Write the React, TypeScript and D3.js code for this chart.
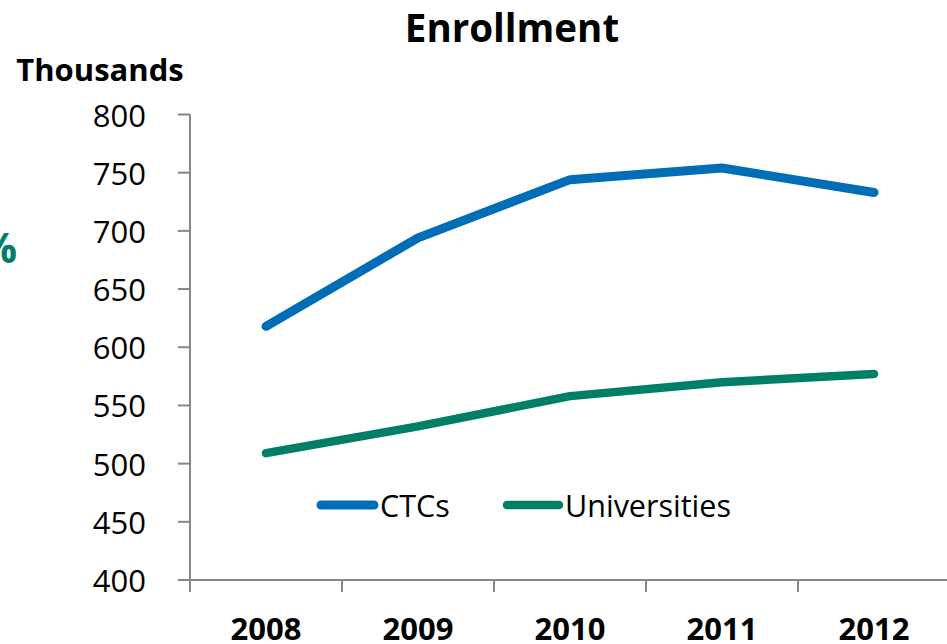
import * as d3 from "d3";

const years = ["2008", "2009", "2010", "2011", "2012"];
const ctcs = [618, 694, 744, 754, 733];
const universities = [509, 532, 558, 570, 577];
const yTicks = [400, 450, 500, 550, 600, 650, 700, 750, 800];

const WIDTH = 947;
const HEIGHT = 644;
const BLUE = "#006EB6";
const GREEN = "#007F68";
const AXIS = "#868686";
const FONT = "'Open Sans', Lato, sans-serif";

const App = () => {
  const xScale = d3.scaleBand().domain(years).range([190, 950]).padding(0);
  const yScale = d3.scaleLinear().domain([400, 800]).range([580, 114.5]);

  const xMid = (d: string) => (xScale(d) ?? 0) + xScale.bandwidth() / 2;

  const line = d3
    .line<number>()
    .x((_, i) => xMid(years[i]))
    .y((d) => yScale(d));

  const series = [
    { name: "CTCs", values: ctcs, color: BLUE, width: 9 },
    { name: "Universities", values: universities, color: GREEN, width: 8.5 },
  ];

  return (
    <svg
      width={WIDTH}
      height={HEIGHT}
      style={{ position: "absolute", left: 0, top: 0, background: "#fff" }}
      fontFamily={FONT}
    >
      <text x={512} y={42} textAnchor="middle" fontSize={38.5} fontWeight="bold">
        Enrollment
      </text>
      <text x={100} y={81} textAnchor="middle" fontSize={31} fontWeight="bold">
        Thousands
      </text>
      <text x={17} y={263} textAnchor="end" fontSize={42} fontWeight="bold" fill={GREEN}>
        %
      </text>

      {/* y axis */}
      <line x1={190} x2={190} y1={yScale(800)} y2={580} stroke={AXIS} strokeWidth={2} />
      {yTicks.map((t) => (
        <g key={t}>
          <line x1={178} x2={190} y1={yScale(t)} y2={yScale(t)} stroke={AXIS} strokeWidth={2} />
          <text
            x={146}
            y={yScale(t)}
            textAnchor="end"
            dominantBaseline="central"
            fontSize={31}
          >
            {t}
          </text>
        </g>
      ))}

      {/* x axis */}
      <line x1={178} x2={950} y1={580} y2={580} stroke={AXIS} strokeWidth={2} />
      {years.map((yr) => (
        <g key={yr}>
          <line
            x1={xScale(yr)}
            x2={xScale(yr)}
            y1={580}
            y2={592}
            stroke={AXIS}
            strokeWidth={2}
          />
          <text x={xMid(yr)} y={640} textAnchor="middle" fontSize={31} fontWeight="bold">
            {yr}
          </text>
        </g>
      ))}

      {series.map((s) => (
        <path
          key={s.name}
          d={line(s.values) ?? ""}
          fill="none"
          stroke={s.color}
          strokeWidth={s.width}
          strokeLinecap="round"
          strokeLinejoin="round"
        />
      ))}

      {/* legend */}
      <g>
        <line x1={321} x2={374} y1={505} y2={505} stroke={BLUE} strokeWidth={9} strokeLinecap="round" />
        <text x={380} y={505} dominantBaseline="central" fontSize={30.5}>
          CTCs
        </text>
        <line x1={507} x2={559} y1={505} y2={505} stroke={GREEN} strokeWidth={8.5} strokeLinecap="round" />
        <text x={565} y={505} dominantBaseline="central" fontSize={30.5}>
          Universities
        </text>
      </g>
    </svg>
  );
};

export default App;
